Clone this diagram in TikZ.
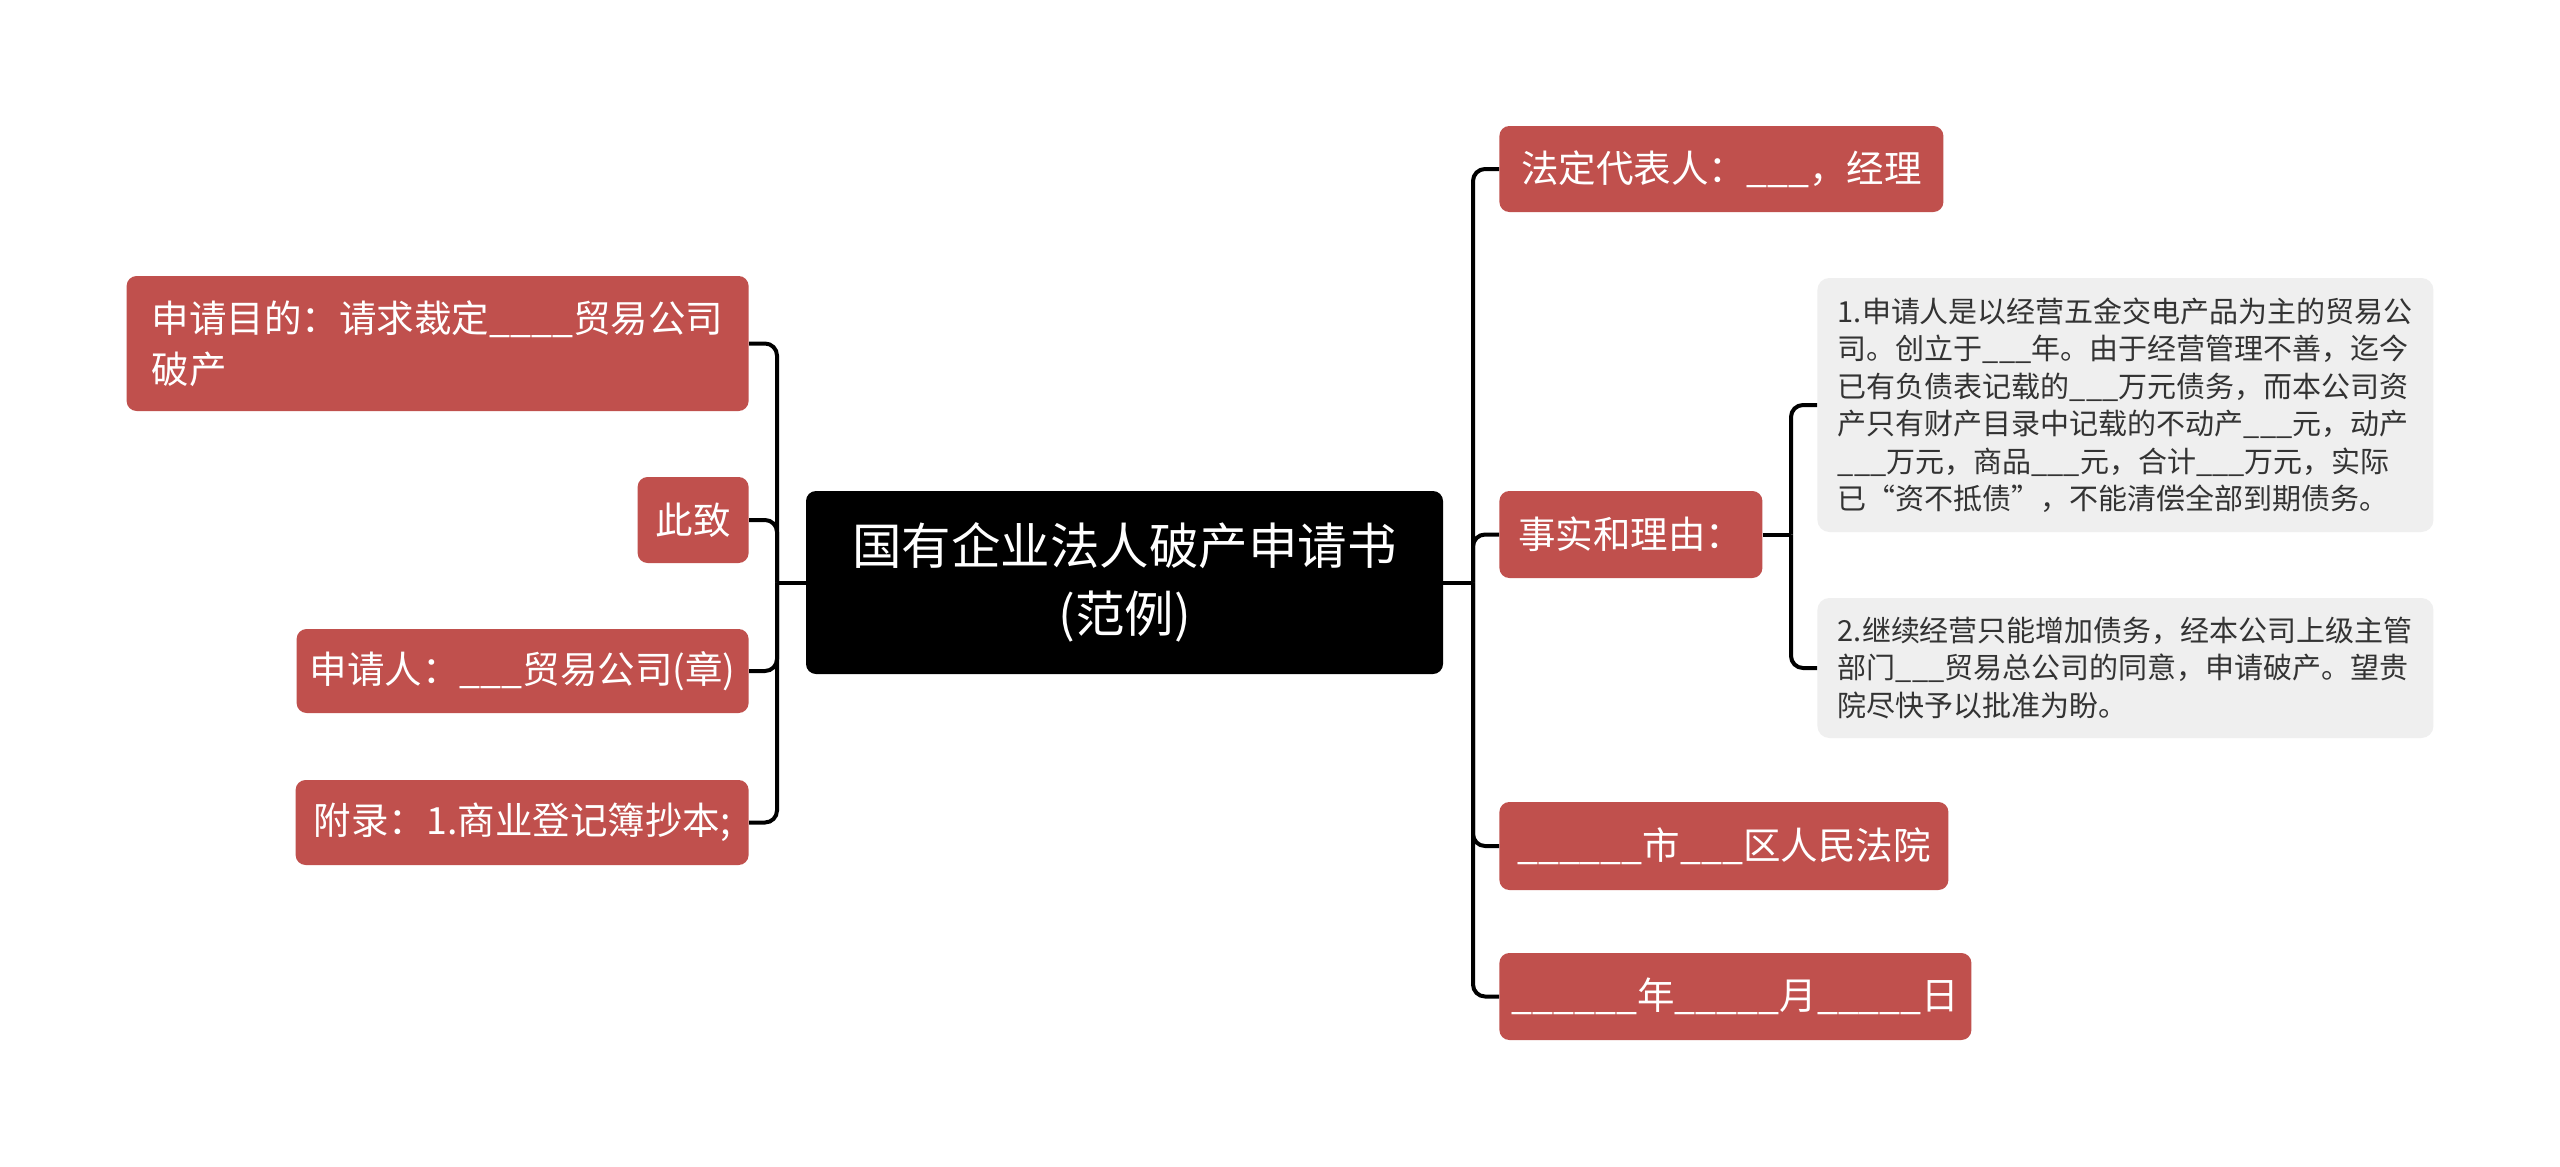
\documentclass[tikz,border=0pt]{standalone}
\usepackage{fontspec}
\newfontfamily\cjk{Noto Sans CJK SC}
\definecolor{boxred}{HTML}{C0504D}
\definecolor{boxgray}{HTML}{EFEFEF}
\definecolor{graytext}{HTML}{333333}
\begin{document}
\begin{tikzpicture}[x=0.5pt,y=-0.5pt,
  redbox/.style={fill=boxred, rounded corners=5pt, text=white,
    font=\cjk\fontsize{18.75}{25.5}\selectfont, inner xsep=6pt, inner ysep=0pt, align=left},
  graybox/.style={fill=boxgray, rounded corners=6pt, text=graytext,
    font=\cjk\fontsize{14.5}{18.75}\selectfont, inner xsep=6pt, inner ysep=0pt, align=left},
  rootbox/.style={fill=black, rounded corners=5pt, text=white,
    font=\cjk\fontsize{24.75}{34}\selectfont, align=center,
    minimum width=318.5pt, minimum height=91.5pt},
  link/.style={line width=2pt, rounded corners=6pt}
]
\fill[white] (0,0) rectangle (2560,1167);
\useasboundingbox (0,0) rectangle (2560,1167);

% root
\node[rootbox] (root) at (1124.5,582.5) {国有企业法人破产申请书\\(范例)};

% left branches
\node[redbox, anchor=east, minimum height=67.5pt, minimum width=311pt] (l1) at (749,343.5)
  {申请目的：请求裁定\_\_\_\_贸易公司\\破产};
\node[redbox, anchor=east, minimum height=43pt, minimum width=55.5pt] (l2) at (749,520) {此致};
\node[redbox, anchor=east, minimum height=42pt, minimum width=226pt] (l3) at (749,671)
  {申请人：\_\_\_贸易公司(章)};
\node[redbox, anchor=east, minimum height=42.5pt, minimum width=226.5pt] (l4) at (749,822.5)
  {附录：1.商业登记簿抄本;};

% right branches
\node[redbox, anchor=west, minimum height=43pt, minimum width=222pt] (r1) at (1499,169)
  {法定代表人：\_\_\_，经理};
\node[redbox, anchor=west, minimum height=43.5pt, minimum width=131.5pt] (r2) at (1499,534.5)
  {事实和理由：};
\node[graybox, anchor=west, minimum height=127pt, minimum width=308pt] (g1) at (1817,405)
  {1.申请人是以经营五金交电产品为主的贸易公\\
   司。创立于\_\_\_年。由于经营管理不善，迄今\\
   已有负债表记载的\_\_\_万元债务，而本公司资\\
   产只有财产目录中记载的不动产\_\_\_元，动产\\
   \_\_\_万元，商品\_\_\_元，合计\_\_\_万元，实际\\
   已“资不抵债”，不能清偿全部到期债务。};
\node[graybox, anchor=west, minimum height=70pt, minimum width=308pt] (g2) at (1817,668)
  {2.继续经营只能增加债务，经本公司上级主管\\
   部门\_\_\_贸易总公司的同意，申请破产。望贵\\
   院尽快予以批准为盼。};
\node[redbox, anchor=west, minimum height=44pt, minimum width=224.5pt] (r3) at (1499,846)
  {\_\_\_\_\_\_市\_\_\_区人民法院};
\node[redbox, anchor=west, minimum height=43.5pt, minimum width=236pt] (r4) at (1499,996.5)
  {\_\_\_\_\_\_年\_\_\_\_\_月\_\_\_\_\_日};

% junctions
\coordinate (jl) at (777,582.5);
\coordinate (jr) at (1473,582.5);
\coordinate (js) at (1791,534.5);

% connectors
\draw[link] (root.west) -- (jl);
\foreach \n in {l1,l2,l3,l4} \draw[link] (jl) |- (\n.east);
\draw[link] (root.east) -- (jr);
\foreach \n in {r1,r2,r3,r4} \draw[link] (jr) |- (\n.west);
\draw[link] (r2.east) -- (js);
\foreach \n in {g1,g2} \draw[link] (js) |- (\n.west);
\end{tikzpicture}
\end{document}
